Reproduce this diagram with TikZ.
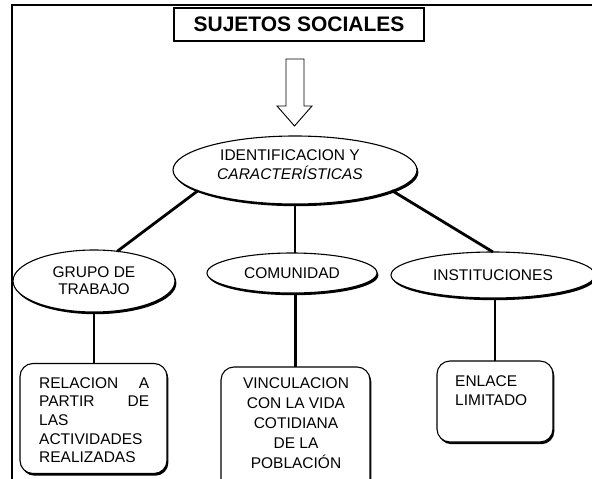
\documentclass[tikz,border=0pt]{standalone}
\usepackage{fontspec}
\setmainfont{Liberation Sans}
\usetikzlibrary{shapes.geometric,shadows}
\begin{document}
\begin{tikzpicture}[x=1pt,y=-1pt,
  shd/.style={drop shadow={shadow xshift=1.4pt,shadow yshift=-2.2pt,fill=black,opacity=1}},
  ell/.style={ellipse,draw,line width=1.1pt,fill=white,inner sep=0pt,outer sep=0pt,
    align=center,font=\fontsize{15.5}{17}\selectfont,shd},
  rbox/.style={rectangle,rounded corners=13pt,draw,line width=1.1pt,fill=white,
    inner sep=0pt,outer sep=0pt,shd},
  conn/.style={line width=2.8pt},
  txt/.style={inner sep=0pt,font=\fontsize{15.5}{18.5}\selectfont}]
\useasboundingbox (0,0) rectangle (592,479);
\clip (0,0) rectangle (592,479);
% outer frame (partly visible)
\draw[line width=2pt] (12,600) -- (12,5) -- (700,5);
% title
\node[draw,line width=1.3pt,minimum width=250pt,minimum height=33pt,inner sep=0pt,
  font=\fontsize{21}{24}\bfseries] (title) at (299,24.5) {SUJETOS SOCIALES};
% hollow arrow
\draw[line width=0.9pt,fill=white] (286,59) -- (304,59) -- (304,106) -- (312,106)
  -- (294.5,126) -- (277,106) -- (286,106) -- cycle;
% ellipses
\node[ell,minimum width=244pt,minimum height=68pt] (top) at (295,170) {};
\node[txt,align=center] (toptxt) at (290,164.5)
  {IDENTIFICACION Y\\[1pt]\itshape CARACTERÍSTICAS};
\node[ell,minimum width=162pt,minimum height=62pt] (grupo) at (94,281) {GRUPO DE\\TRABAJO};
\node[ell,minimum width=170pt,minimum height=40pt] (comu) at (292,273) {COMUNIDAD};
\node[ell,minimum width=204pt,minimum height=46pt] (inst) at (493,275) {INSTITUCIONES};
% boxes
\node[rbox,minimum width=147pt,minimum height=110pt] (b1) at (93.5,418.5) {};
\node[rbox,minimum width=149pt,minimum height=125pt] (b2) at (295.5,429.5) {};
\node[rbox,minimum width=116pt,minimum height=81pt] (b3) at (495,401.5) {};
% box texts
\node[txt,anchor=north west] (t1) at (39,377) {\parbox{110pt}{\fontsize{15.5}{18.7}\selectfont
  \hbox to 110pt{RELACION\hfill A}\hbox to 110pt{PARTIR\hfill DE}\hbox{LAS}%
  \hbox{ACTIVIDADES}\hbox{REALIZADAS}}};
\node[txt,anchor=north,align=center,font=\fontsize{15.5}{20}\selectfont] (t2) at (296,377)
  {VINCULACION\\CON LA VIDA\\COTIDIANA\\DE LA\\POBLACIÓN};
\node[txt,anchor=north west,align=left,font=\fontsize{15.5}{19}\selectfont] (t3) at (455,375)
  {ENLACE\\LIMITADO};
% connectors
\draw[conn] (top.192) -- (grupo.52);
\draw[conn] (top.-12) -- (inst.north);
\draw[conn] (top.south) -- (top.south |- comu.north);
\draw[conn] (grupo.south) -- (grupo.south |- b1.north);
\draw[conn] (comu.south -| b2.north) -- (b2.north);
\draw[conn] (inst.south -| b3.north) -- (b3.north);
\end{tikzpicture}
\end{document}
